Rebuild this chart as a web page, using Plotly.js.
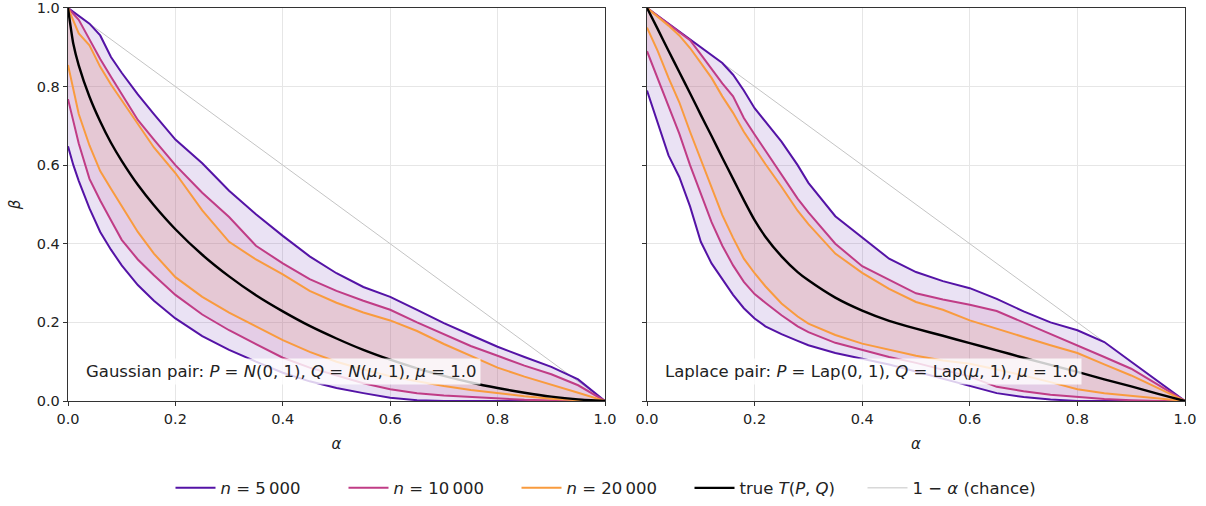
<!DOCTYPE html>
<html>
<head>
<meta charset="utf-8">
<script src="https://cdn.plot.ly/plotly-3.0.1.min.js"></script>
<style>html,body{margin:0;padding:0;background:#fff;}#chart{width:1206px;height:506px;}</style>
</head>
<body>
<div id="chart"></div>
<script>
// ---------- Gaussian pair ----------
const alphaG = [0, 0.01, 0.02, 0.04, 0.06, 0.08, 0.1, 0.13, 0.16, 0.2, 0.25, 0.3, 0.35, 0.4, 0.45, 0.5, 0.55, 0.6, 0.65, 0.7, 0.75, 0.8, 0.85, 0.9, 0.95, 1.0];
const gTrue  = [1, 0.908, 0.854, 0.774, 0.711, 0.657, 0.611, 0.550, 0.498, 0.437, 0.372, 0.317, 0.269, 0.228, 0.191, 0.159, 0.130, 0.105, 0.083, 0.064, 0.047, 0.033, 0.021, 0.011, 0.004, 0];
const g5Up   = [1, 0.99, 0.98, 0.96, 0.93, 0.875, 0.835, 0.78, 0.73, 0.665, 0.605, 0.535, 0.475, 0.42, 0.368, 0.325, 0.29, 0.265, 0.232, 0.198, 0.168, 0.138, 0.112, 0.087, 0.055, 0];
const g5Lo   = [0.648, 0.6, 0.56, 0.49, 0.43, 0.385, 0.345, 0.295, 0.255, 0.21, 0.165, 0.13, 0.1, 0.072, 0.05, 0.033, 0.02, 0.008, 0.002, 0, 0, 0, 0, 0, 0, 0];
const g10Up  = [1, 0.985, 0.97, 0.92, 0.87, 0.825, 0.78, 0.715, 0.665, 0.6, 0.53, 0.468, 0.395, 0.35, 0.31, 0.28, 0.255, 0.232, 0.2, 0.17, 0.14, 0.115, 0.09, 0.068, 0.04, 0];
const g10Lo  = [0.768, 0.71, 0.655, 0.565, 0.51, 0.46, 0.41, 0.36, 0.32, 0.27, 0.22, 0.18, 0.145, 0.11, 0.085, 0.065, 0.045, 0.03, 0.02, 0.014, 0.01, 0.006, 0.003, 0.001, 0, 0];
const g20Up  = [1, 0.965, 0.935, 0.905, 0.85, 0.805, 0.765, 0.705, 0.645, 0.58, 0.485, 0.405, 0.36, 0.322, 0.28, 0.25, 0.225, 0.205, 0.178, 0.145, 0.115, 0.085, 0.062, 0.042, 0.021, 0];
const g20Lo  = [0.855, 0.79, 0.73, 0.65, 0.585, 0.54, 0.495, 0.43, 0.375, 0.315, 0.265, 0.225, 0.19, 0.155, 0.125, 0.1, 0.08, 0.063, 0.05, 0.038, 0.028, 0.02, 0.012, 0.006, 0.002, 0];

// ---------- Laplace pair ----------
const alphaL = [0, 0.02, 0.04, 0.06, 0.08, 0.1, 0.12, 0.14, 0.16, 0.18, 0.2, 0.22, 0.25, 0.28, 0.3, 0.35, 0.4, 0.45, 0.5, 0.55, 0.6, 0.65, 0.7, 0.75, 0.8, 0.85, 0.9, 0.95, 1.0];
const lTrue  = [1, 0.946, 0.891, 0.837, 0.783, 0.728, 0.674, 0.619, 0.565, 0.511, 0.46, 0.418, 0.368, 0.328, 0.307, 0.263, 0.23, 0.204, 0.184, 0.166, 0.147, 0.129, 0.110, 0.092, 0.074, 0.055, 0.037, 0.018, 0];
const l5Up   = [1, 0.98, 0.96, 0.94, 0.92, 0.9, 0.88, 0.86, 0.83, 0.79, 0.745, 0.71, 0.66, 0.6, 0.555, 0.47, 0.415, 0.362, 0.328, 0.305, 0.287, 0.26, 0.228, 0.2, 0.18, 0.15, 0.1, 0.05, 0];
const l5Lo   = [0.79, 0.71, 0.625, 0.57, 0.495, 0.405, 0.35, 0.31, 0.27, 0.236, 0.21, 0.19, 0.17, 0.153, 0.142, 0.122, 0.108, 0.093, 0.075, 0.056, 0.038, 0.02, 0.01, 0.004, 0, 0, 0, 0, 0];
const l10Up  = [1, 0.98, 0.96, 0.94, 0.918, 0.882, 0.845, 0.808, 0.775, 0.72, 0.678, 0.638, 0.575, 0.515, 0.48, 0.4, 0.343, 0.308, 0.274, 0.258, 0.245, 0.229, 0.2, 0.172, 0.143, 0.112, 0.082, 0.042, 0];
const l10Lo  = [0.89, 0.82, 0.745, 0.68, 0.6, 0.525, 0.455, 0.395, 0.345, 0.303, 0.272, 0.25, 0.218, 0.19, 0.175, 0.148, 0.13, 0.112, 0.097, 0.08, 0.062, 0.036, 0.025, 0.016, 0.01, 0.005, 0.002, 0, 0];
const l20Up  = [1, 0.978, 0.955, 0.93, 0.898, 0.86, 0.822, 0.775, 0.733, 0.685, 0.643, 0.603, 0.545, 0.484, 0.45, 0.375, 0.326, 0.285, 0.252, 0.232, 0.205, 0.183, 0.163, 0.142, 0.122, 0.093, 0.065, 0.033, 0];
const l20Lo  = [0.95, 0.89, 0.822, 0.76, 0.685, 0.615, 0.545, 0.473, 0.415, 0.362, 0.325, 0.292, 0.248, 0.215, 0.197, 0.168, 0.146, 0.13, 0.115, 0.103, 0.095, 0.08, 0.065, 0.048, 0.03, 0.02, 0.013, 0.006, 0];

// chance line
const chanceX = [0, 1];
const chanceY = [1, 0];

const seriesNames = ['<i>n</i> = 5\u2009000', '<i>n</i> = 10\u2009000', '<i>n</i> = 20\u2009000', 'true <i>T</i>(<i>P</i>, <i>Q</i>)', '1 \u2212 <i>α</i> (chance)'];
const panelLabels = [
  'Gaussian pair: <i>P</i> = <i>N</i>(0, 1), <i>Q</i> = <i>N</i>(<i>μ</i>, 1), <i>μ</i> = 1.0',
  'Laplace pair: <i>P</i> = Lap(0, 1), <i>Q</i> = Lap(<i>μ</i>, 1), <i>μ</i> = 1.0'
];

const colors = ['#5413a6', '#c03c86', '#f99b3e'];
const fills = ['rgba(84,19,166,0.12)', 'rgba(192,60,134,0.12)', 'rgba(249,155,62,0.10)'];

function bandPoly(x, up, lo) {
  return {x: x.concat(x.slice().reverse()), y: up.concat(lo.slice().reverse())};
}

const traces = [];
function addPanel(xa, ya, ax, bands, tr, first) {
  traces.push({x: chanceX, y: chanceY, xaxis: xa, yaxis: ya, mode: 'lines', type: 'scatter',
    line: {color: '#c4c4c4', width: 1}, name: seriesNames[4], showlegend: first, legendrank: 5, hoverinfo: 'skip'});
  bands.forEach((b, i) => {
    const p = bandPoly(ax, b[0], b[1]);
    traces.push({x: p.x, y: p.y, xaxis: xa, yaxis: ya, mode: 'lines', type: 'scatter', fill: 'toself',
      fillcolor: fills[i], line: {width: 0, color: 'rgba(0,0,0,0)'}, showlegend: false, hoverinfo: 'skip'});
  });
  bands.forEach((b, i) => {
    traces.push({x: ax, y: b[0], xaxis: xa, yaxis: ya, mode: 'lines', type: 'scatter',
      line: {color: colors[i], width: 2}, name: seriesNames[i], showlegend: first, legendrank: i + 1, hoverinfo: 'skip'});
    traces.push({x: ax, y: b[1], xaxis: xa, yaxis: ya, mode: 'lines', type: 'scatter',
      line: {color: colors[i], width: 2}, name: seriesNames[i], showlegend: false, hoverinfo: 'skip'});
  });
  traces.push({x: ax, y: tr, xaxis: xa, yaxis: ya, mode: 'lines', type: 'scatter',
    line: {color: '#000000', width: 2.4, shape: 'spline', smoothing: 0.6}, name: seriesNames[3], showlegend: first, legendrank: 4, hoverinfo: 'skip'});
}

addPanel('x', 'y', alphaG, [[g5Up, g5Lo], [g10Up, g10Lo], [g20Up, g20Lo]], gTrue, true);
addPanel('x2', 'y2', alphaL, [[l5Up, l5Lo], [l10Up, l10Lo], [l20Up, l20Lo]], lTrue, false);

const W = 1206, H = 506;
const yDom = [1 - 405 / H, 1 - 8 / H];
const FF = 'DejaVu Sans, sans-serif';
const tickFont = {family: FF, size: 14.5, color: '#222'};

function xAxis(dom, anchor) {
  return {domain: dom, anchor: anchor, range: [0, 1], dtick: 0.2, tick0: 0, tickformat: '.1f',
    tickfont: tickFont, ticklabeloverflow: 'allow',
    showgrid: true, gridcolor: '#e6e6e6', gridwidth: 1, zeroline: false,
    showline: true, linecolor: '#333', linewidth: 1.3, mirror: true,
    ticks: 'outside', ticklen: 4, tickwidth: 1, tickcolor: '#333', automargin: false,
    title: {text: '<i>α</i>', font: {family: FF, size: 15, color: '#222'}, standoff: 12}};
}
function yAxis(anchor, labels) {
  return {domain: yDom, anchor: anchor, range: [0, 1], dtick: 0.2, tick0: 0, tickformat: '.1f',
    tickfont: tickFont, showticklabels: labels, ticklabeloverflow: 'allow',
    showgrid: true, gridcolor: '#e6e6e6', gridwidth: 1, zeroline: false,
    showline: true, linecolor: '#333', linewidth: 1.3, mirror: true,
    ticks: 'outside', ticklen: 4, tickwidth: 1, tickcolor: '#333', automargin: false,
    title: labels ? {text: '<i>β</i>', font: {family: FF, size: 15, color: '#222'}, standoff: 12} : {text: ''}};
}

const layout = {
  width: W, height: H,
  margin: {l: 0, r: 0, t: 0, b: 0},
  paper_bgcolor: '#ffffff', plot_bgcolor: '#ffffff',
  font: {family: FF, size: 14, color: '#222'},
  showlegend: true,
  legend: {orientation: 'h', x: 0.5, xanchor: 'center', y: 1 - 493 / H, yanchor: 'middle',
    font: {family: FF, size: 16.5, color: '#222'}, itemwidth: 40,
    entrywidth: 118, entrywidthmode: 'pixels', tracegroupgap: 0,
    bgcolor: 'rgba(0,0,0,0)'},
  xaxis: xAxis([68 / W, 605 / W], 'y'),
  yaxis: yAxis('x', true),
  xaxis2: xAxis([647 / W, 1185 / W], 'y2'),
  yaxis2: yAxis('x2', false),
  annotations: [
    {xref: 'x', yref: 'y', x: 0.026, y: 0.074, xanchor: 'left', yanchor: 'middle', showarrow: false,
      text: panelLabels[0], font: {family: FF, size: 16.5, color: '#222'},
      bgcolor: 'rgba(255,255,255,0.8)', borderpad: 3},
    {xref: 'x2', yref: 'y2', x: 0.026, y: 0.074, xanchor: 'left', yanchor: 'middle', showarrow: false,
      text: panelLabels[1], font: {family: FF, size: 16.5, color: '#222'},
      bgcolor: 'rgba(255,255,255,0.8)', borderpad: 3}
  ],
  hovermode: false
};

Plotly.newPlot('chart', traces, layout, {displayModeBar: false, staticPlot: true});
</script>
</body>
</html>
